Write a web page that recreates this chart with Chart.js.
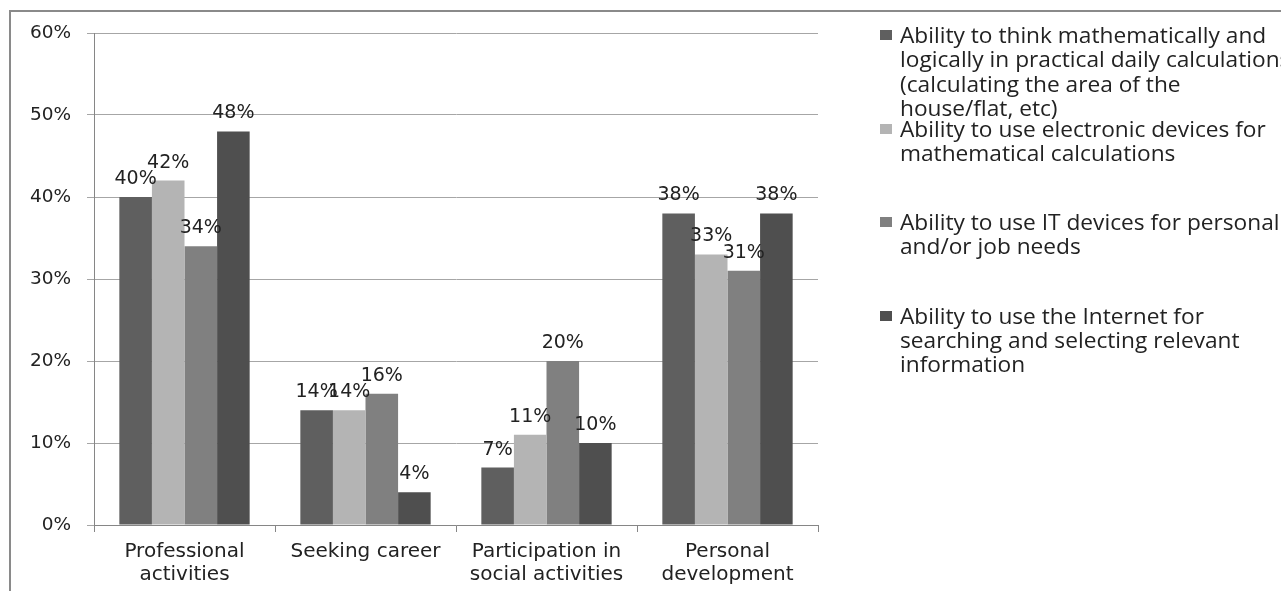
<!DOCTYPE html>
<html>
<head>
<meta charset="utf-8">
<script src="https://cdn.jsdelivr.net/npm/chart.js@4/dist/chart.umd.min.js"></script>
<style>
  html, body { margin: 0; padding: 0; background: #fff; overflow: hidden; }
  #wrap { position: relative; width: 1281px; height: 591px; }
  #frame {
    position: absolute; left: 9px; top: 10px; right: 0; bottom: 0;
    border-top: 2px solid #8a8a8a; border-left: 2px solid #8a8a8a;
  }
  #chart { position: absolute; left: 0; top: 0; }
  #legend { position: absolute; left: 0; top: 0; width: 1281px; height: 591px; pointer-events: none; }
  .item {
    position: absolute; left: 880px; width: 420px;
    font-family: "Open Sans", sans-serif; font-size: 22.7px; line-height: 24.3px;
    color: #222; white-space: nowrap;
  }
  .item .box { position: absolute; left: 0; top: 7px; width: 12px; height: 10px; }
  .item .txt { position: absolute; left: 20px; top: 0; }
</style>
</head>
<body>
<div id="wrap">
  <div id="frame"></div>
  <canvas id="chart" width="1281" height="591"></canvas>
  <div id="legend"></div>
</div>
<script>
// Kategoriler (iki satırlık eksen etiketleri)
const categories = [
  ["Professional", "activities"],
  ["Seeking career"],
  ["Participation in", "social activities"],
  ["Personal", "development"]
];

// Seriler
const seriesLabels = [
  ["Ability to think mathematically and", "logically in practical daily calculations", "(calculating the area of the", "house/flat, etc)"],
  ["Ability to use electronic devices for", "mathematical calculations"],
  ["Ability to use IT devices for personal", "and/or job needs"],
  ["Ability to use the Internet for", "searching and selecting relevant", "information"]
];
const seriesColors = ['#5f5f5f', '#b4b4b4', '#808080', '#4f4f4f'];

const thinkMath = [40, 14, 7, 38];
const electronicDevices = [42, 14, 11, 33];
const itDevices = [34, 16, 20, 31];
const internetUse = [48, 4, 10, 38];
const seriesValues = [thinkMath, electronicDevices, itDevices, internetUse];

const yTicks = [0, 10, 20, 30, 40, 50, 60];

// Değer etiketleri (çubukların üstünde)
const valueLabels = {
  id: 'valueLabels',
  afterDatasetsDraw(chart) {
    const ctx = chart.ctx;
    ctx.save();
    ctx.font = '19px "DejaVu Sans"';
    ctx.fillStyle = '#222';
    ctx.textAlign = 'center';
    ctx.textBaseline = 'alphabetic';
    chart.data.datasets.forEach((ds, i) => {
      chart.getDatasetMeta(i).data.forEach((bar, j) => {
        ctx.fillText(ds.data[j] + '%', bar.x, bar.y - 13);
      });
    });
    ctx.restore();
  }
};

const datasets = seriesValues.map((vals, i) => ({
  label: seriesLabels[i].join(' '),
  data: vals,
  backgroundColor: seriesColors[i],
  borderWidth: 0,
  barPercentage: 1,
  categoryPercentage: 0.72
}));

new Chart(document.getElementById('chart'), {
  type: 'bar',
  data: { labels: categories, datasets },
  plugins: [valueLabels],
  options: {
    responsive: false,
    devicePixelRatio: 1,
    animation: false,
    layout: { padding: { left: 0, top: 33, right: 463, bottom: 0 } },
    plugins: { legend: { display: false }, tooltip: { enabled: false } },
    scales: {
      x: {
        afterFit(scale) { scale.height = 66; },
        grid: { offset: true, drawOnChartArea: false, drawTicks: true, tickLength: 7, color: '#868686' },
        border: { color: '#868686', width: 1 },
        ticks: { color: '#222', padding: 8, font: { family: 'DejaVu Sans', size: 20, lineHeight: 1.15 } }
      },
      y: {
        min: 0, max: 60,
        afterFit(scale) { scale.width = 94; },
        afterBuildTicks(scale) { scale.ticks = yTicks.map(v => ({ value: v })); },
        grid: { color: '#a6a6a6', tickLength: 7 },
        border: { color: '#868686', width: 1 },
        ticks: {
          color: '#222', padding: 16,
          font: { family: 'DejaVu Sans', size: 18.5 },
          callback: v => v + '%'
        }
      }
    }
  }
});

// Lejant (sağ tarafta, HTML)
const legend = document.getElementById('legend');
seriesLabels.forEach((lines, i) => {
  const item = document.createElement('div');
  item.className = 'item';
  item.style.top = (23 + i * 93.5) + 'px';
  const box = document.createElement('div');
  box.className = 'box';
  box.style.background = seriesColors[i];
  const txt = document.createElement('div');
  txt.className = 'txt';
  txt.innerHTML = lines.join('<br>');
  item.appendChild(box);
  item.appendChild(txt);
  legend.appendChild(item);
});
</script>
</body>
</html>
